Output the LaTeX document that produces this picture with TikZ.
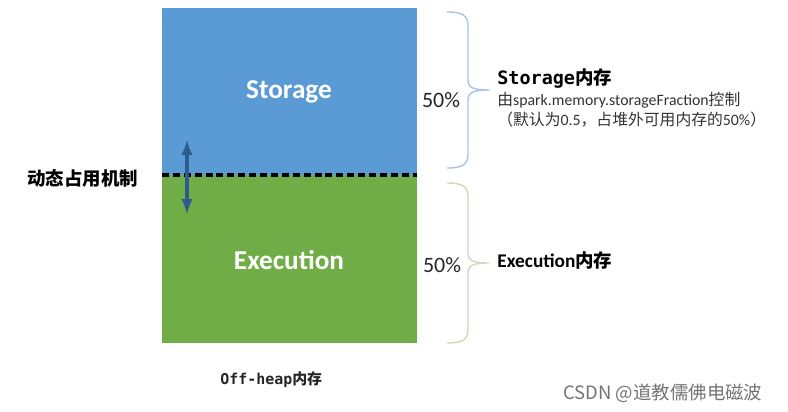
\documentclass[tikz,border=0pt]{standalone}
\usepackage{fontspec}
\setmainfont{Carlito}
\newfontfamily\cjk{Noto Sans CJK SC}
\newfontfamily\monof{DejaVu Sans Mono}
\usetikzlibrary{positioning}

\definecolor{stoblue}{HTML}{5B9BD5}
\definecolor{exegreen}{HTML}{70AD47}
\definecolor{arrblue}{HTML}{2F5C8F}
\definecolor{braceblue}{HTML}{A9C5E3}
\definecolor{bracegreen}{HTML}{C9DCB6}

\tikzset{
    blocktext/.style={text=white, font=\bfseries\fontsize{15.5}{17}\selectfont},
    pct/.style={font=\fontsize{12.5}{14}\selectfont, text=black!85},
    label/.style={anchor=west, inner sep=0pt, font=\fontsize{10.5}{12}\selectfont},
    note/.style={anchor=west, inner sep=0pt, font=\fontsize{9}{11}\selectfont, text=black!80},
}

\begin{document}
\begin{tikzpicture}[x=0.02cm, y=-0.02cm, >=latex]
    \useasboundingbox (0,0) rectangle (788,412);

    % 1. Hai vùng nhớ
    \fill[stoblue] (162, 8) rectangle (417, 175);
    \fill[exegreen] (162, 175) rectangle (417, 343);
    \node[blocktext] (stor) at (289, 92) {Storage};
    \node[blocktext] (exec) at (289, 260) {Execution};

    % 2. Đường ranh giới nét đứt và mũi tên
    \draw[line width=1.9pt, dash pattern=on 4pt off 2.2pt] (162, 175) -- (417, 175);
    \coordinate (up) at (187, 140);
    \coordinate (dn) at (187, 214);
    \draw[<->, arrblue, line width=1.9pt] (up) -- (dn);
    \node[anchor=west, inner sep=0pt, font=\cjk\bfseries\fontsize{10.5}{12}\selectfont] (dyn) at (27, 178) {动态占用机制};

    % 3. Dấu ngoặc nhọn
    \draw[braceblue, line width=0.8pt] (447, 12) .. controls (462, 12) and (468, 15) .. (468, 26)
        -- (468, 80) .. controls (468, 88) and (474, 90) .. (490, 90)
        .. controls (474, 90) and (468, 92) .. (468, 100)
        -- (468, 154) .. controls (468, 165) and (462, 168) .. (447, 168);
    \draw[bracegreen, line width=0.8pt] (447, 183) .. controls (462, 183) and (468, 186) .. (468, 197)
        -- (468, 253) .. controls (468, 261) and (474, 263) .. (489, 263)
        .. controls (474, 263) and (468, 265) .. (468, 273)
        -- (468, 329) .. controls (468, 340) and (462, 343) .. (447, 343);
    \node[pct] (p1) at (441, 100) {50\%};
    \node[pct] (p2) at (442, 265) {50\%};

    % 4. Chú thích
    \node[label] (slab) at (497, 79) {{\monof\bfseries Storage}{\cjk\bfseries 内存}};
    \node[note] (sl2) at (497, 100) {{\cjk 由}spark.memory.storageFraction{\cjk 控制}};
    \node[note] (sl3) at (497, 120) {{\cjk （默认为}0.5{\cjk ，占堆外可用内存的}50\%{\cjk ）}};
    \node[label] (elab) at (497, 260) {{\bfseries\fontsize{11}{12}\selectfont Execution}{\cjk\bfseries 内存}};

    \node[anchor=west, inner sep=0pt, text=black!85, font=\fontsize{8.5}{11}\selectfont] (off) at (220, 380) {{\monof\bfseries Off-heap}{\cjk\bfseries 内存}};
    \node[anchor=west, inner sep=0pt, text=black!55, font=\fontsize{10.5}{12}\selectfont] (mark) at (563, 393) {{\cjk CSDN @道教儒佛电磁波}};
\end{tikzpicture}
\end{document}
